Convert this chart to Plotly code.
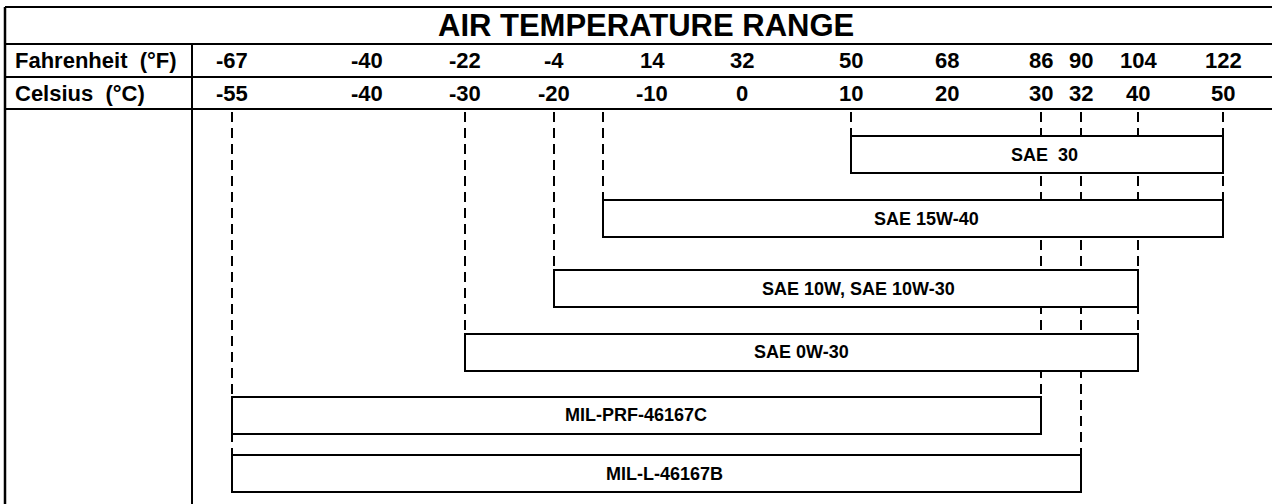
import numpy as np
import plotly.graph_objects as go

# Temperature grid columns (Fahrenheit row / Celsius row)
fahrenheit_ticks = ["-67", "-40", "-22", "-4", "14", "32", "50", "68", "86", "90", "104", "122"]
celsius_ticks = [-55, -40, -30, -20, -10, 0, 10, 20, 30, 32, 40, 50]

# Oil grades and their usable air-temperature range in °C
grades = ["SAE  30", "SAE 15W-40", "SAE 10W, SAE 10W-30", "SAE 0W-30",
          "MIL-PRF-46167C", "MIL-L-46167B"]
low_c = [10, -15, -20, -30, -55, -55]
high_c = [50, 50, 40, 40, 30, 32]

# ---- layout constants (pixels) ----
W, H = 1272, 504
COL_X = [232, 367, 465, 554, 652, 742, 851, 947, 1041, 1081, 1138, 1223]  # column centres
ROW_Y = [154.5, 218.5, 288.5, 352, 415, 473.5]                             # bar row centres
BAR_H = 37
LABEL_DX = [7, 13, 12, 0, -1, 8]
LEFT, SEP, RIGHT = 5, 192, W
Y_TOP, Y_TITLE, Y_F, Y_C = 7, 44, 77, 109
DASH_TOP = 112
FONT = "Liberation Sans, Arial, sans-serif"


def to_x(c):
    """Map a Celsius value onto the chart's column scale."""
    return np.interp(c, celsius_ticks, COL_X)


fig = go.Figure()

# Range bars (white boxes with black outline)
x0 = to_x(low_c)
x1 = to_x(high_c)
fig.add_trace(go.Bar(orientation="h", y=ROW_Y, base=x0, x=x1 - x0, width=BAR_H,
                     marker=dict(color="white", line=dict(color="black", width=2)),
                     hoverinfo="skip"))

shapes = []
# Dashed guide lines, drawn beneath the bars: from the header down to the
# lowest bar that starts or ends at that temperature
for t in sorted(set(low_c) | set(high_c)):
    tops = [ROW_Y[i] - BAR_H / 2 for i in range(len(grades)) if low_c[i] == t or high_c[i] == t]
    x = float(to_x(t))
    shapes.append(dict(type="line", layer="below", x0=x, x1=x, y0=DASH_TOP, y1=max(tops),
                       line=dict(color="black", width=2, dash="10px,6px")))

ann = []
for i, g in enumerate(grades):
    ann.append(dict(x=(x0[i] + x1[i]) / 2 + LABEL_DX[i], y=ROW_Y[i], text=g, showarrow=False,
                    xanchor="center", yanchor="middle",
                    font=dict(family=FONT, size=18, color="black", weight="bold")))

# Header texts
ann.append(dict(x=646, y=(Y_TOP + Y_TITLE) / 2, text="AIR TEMPERATURE RANGE", showarrow=False,
                xanchor="center", yanchor="middle",
                font=dict(family=FONT, size=31, color="black", weight="bold")))
for txt, yc in [("Fahrenheit  (°F)", (Y_TITLE + Y_F) / 2), ("Celsius  (°C)", (Y_F + Y_C) / 2)]:
    ann.append(dict(x=13, y=yc, text=txt, showarrow=False, xanchor="left", yanchor="middle",
                    font=dict(family=FONT, size=22, color="black", weight="bold")))
for f, c, cx in zip(fahrenheit_ticks, celsius_ticks, COL_X):
    ann.append(dict(x=cx, y=(Y_TITLE + Y_F) / 2, text=f, showarrow=False,
                    xanchor="center", yanchor="middle",
                    font=dict(family=FONT, size=22, color="black", weight="bold")))
    ann.append(dict(x=cx, y=(Y_F + Y_C) / 2, text=str(c), showarrow=False,
                    xanchor="center", yanchor="middle",
                    font=dict(family=FONT, size=22, color="black", weight="bold")))

# Table frame lines
for yy in (Y_TOP, Y_TITLE, Y_F, Y_C):
    shapes.append(dict(type="line", x0=LEFT, x1=RIGHT, y0=yy, y1=yy,
                       line=dict(color="black", width=2)))
shapes.append(dict(type="line", x0=LEFT, x1=LEFT, y0=Y_TOP, y1=H,
                   line=dict(color="black", width=2.5)))
shapes.append(dict(type="line", x0=SEP, x1=SEP, y0=Y_TITLE, y1=H,
                   line=dict(color="black", width=2)))

fig.update_layout(
    width=W, height=H, margin=dict(l=0, r=0, t=0, b=0),
    paper_bgcolor="white", plot_bgcolor="white", showlegend=False,
    xaxis=dict(range=[0, W], visible=False, fixedrange=True),
    yaxis=dict(range=[H, 0], visible=False, fixedrange=True),
    annotations=ann, shapes=shapes, bargap=0,
)

fig.write_html("out.html", config={"displayModeBar": False})
